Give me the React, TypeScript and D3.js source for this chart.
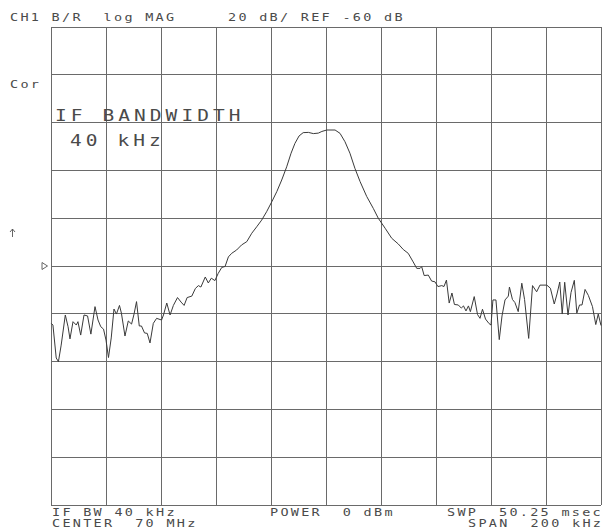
import React from "react";
import * as d3 from "d3";

// Frequency offset from center (kHz), span 200 kHz around 70 MHz
const freqKHz = [
  -99.9, -99.3, -98.1, -97.3, -96.3, -94.8, -93.8, -93.1, -92.0, -90.8, -90.2, -89.2, -88.0, -86.7, -85.5, -84.0,
  -82.9, -81.9, -80.9, -80.0, -79.1, -78.1, -77.1, -76.2, -75.1, -74.4, -73.1, -71.9, -70.7, -69.8, -68.9, -67.9,
  -67.1, -66.0, -65.0, -64.0, -62.8, -61.6, -59.8, -59.1, -57.9, -56.7, -55.5, -54.0, -52.7, -51.6, -50.5, -48.8,
  -47.5, -46.4, -45.5, -43.9, -42.8, -41.7, -40.4, -39.2, -37.9, -36.7, -35.5, -34.3, -32.5, -30.7, -28.8, -27.0,
  -25.2, -23.4, -21.6, -19.7, -17.9, -16.1, -14.3, -12.7, -11.3, -9.8, -8.3, -6.4, -4.6, -2.8, -1.5, 0.3,
  3.3, 5.1, 6.9, 8.7, 10.5, 12.4, 14.8, 17.2, 19.0, 21.5, 23.9, 26.3, 28.1, 29.9, 31.7, 33.0,
  34.2, 34.8, 35.7, 37.2, 38.4, 39.6, 40.7, 42.1, 42.9, 43.8, 44.8, 45.8, 46.7, 48.1, 49.2, 50.0,
  50.9, 51.8, 52.5, 53.9, 55.1, 56.0, 56.9, 58.0, 59.3, 60.0, 60.7, 61.8, 63.0, 64.0, 65.1, 66.3,
  66.7, 67.8, 68.7, 69.9, 71.2, 72.2, 73.7, 75.1, 76.6, 77.8, 80.3, 81.6, 83.0, 84.0, 85.0, 85.9,
  86.8, 88.0, 89.1, 90.3, 91.2, 92.2, 93.1, 94.2, 95.4, 96.9, 98.1, 99.0, 100.0,
];

// Magnitude, dB (B/R)
const magDB = [
  -84.0, -84.7, -98.5, -100.0, -93.1, -80.5, -85.4, -90.5, -83.3, -84.7, -83.3, -88.9, -80.5, -80.9, -88.5, -77.0,
  -82.6, -85.4, -86.4, -91.0, -98.3, -90.1, -78.0, -80.1, -76.5, -79.7, -89.3, -83.0, -84.3, -80.1, -74.9, -85.1,
  -85.1, -88.0, -88.2, -92.2, -84.0, -81.9, -82.6, -80.5, -75.5, -80.5, -76.5, -73.2, -75.1, -76.5, -73.2, -72.6,
  -69.4, -68.2, -68.8, -64.6, -67.1, -65.1, -66.1, -63.1, -60.6, -60.2, -56.2, -54.7, -53.3, -51.2, -49.8, -46.3,
  -43.6, -40.8, -37.3, -33.1, -28.9, -24.0, -18.5, -12.8, -8.7, -5.6, -4.2, -4.1, -4.6, -4.4, -3.7, -3.1,
  -3.1, -4.5, -8.0, -12.8, -19.1, -24.7, -30.9, -35.9, -40.0, -44.2, -48.4, -50.8, -53.1, -54.7, -58.3, -61.0,
  -61.0, -60.3, -64.0, -63.8, -66.3, -66.6, -68.6, -68.2, -68.6, -65.9, -75.5, -71.3, -76.1, -76.3, -77.6, -76.7,
  -78.8, -76.7, -79.1, -72.8, -80.3, -81.9, -78.1, -82.2, -84.1, -84.7, -74.2, -74.2, -90.8, -80.9, -74.2, -72.6,
  -68.8, -74.0, -75.3, -79.1, -67.2, -74.0, -90.3, -68.2, -70.8, -68.0, -68.0, -69.3, -75.9, -71.7, -66.7, -80.1,
  -66.8, -80.5, -71.1, -66.0, -79.7, -76.3, -76.3, -69.8, -72.3, -77.0, -84.5, -80.1, -84.9,
];

const xDivs = d3.range(0, 11);
const yDivs = d3.range(0, 11);

const headerLeft = "CH1 B/R  log MAG";
const headerRight = "20 dB/ REF -60 dB";
const corLabel = "Cor";
const bigLine1 = "IF BANDWIDTH";
const bigLine2 = "40 kHz";
const footer1 = [
  { t: "IF BW 40 kHz", x: 52 },
  { t: "POWER  0 dBm", x: 270 },
  { t: "SWP  50.25 msec", x: 447 },
];
const footer2 = [
  { t: "CENTER  70 MHz", x: 52 },
  { t: "SPAN  200 kHz", x: 468 },
];

const W = 602;
const H = 529;
const L = 51, R = 601, T = 27, B = 505;

const FONT = "'DejaVu Sans Mono', monospace";
const TEXT_COLOR = "#4a4a4a";

function Mono({ x, y, text, size = 10, pitch = 10.4, sx = 1.35 }: { x: number; y: number; text: string; size?: number; pitch?: number; sx?: number }) {
  return (
    <g fontFamily={FONT} fontSize={size} fill={TEXT_COLOR}>
      {text.split("").map((c, i) =>
        c === " " ? null : (
          <text key={i} transform={`translate(${x + i * pitch},${y}) scale(${sx},1)`}>
            {c}
          </text>
        )
      )}
    </g>
  );
}

export default function App() {
  const x = d3.scaleLinear().domain([-100, 100]).range([L, R]);
  const y = d3.scaleLinear().domain([-160, 40]).range([B, T]);

  const gx = d3.scaleLinear().domain([0, 10]).range([L, R]);
  const gy = d3.scaleLinear().domain([0, 10]).range([T, B]);

  const pts: [number, number][] = freqKHz.map((f, i) => [f, magDB[i]]);
  const line = d3
    .line<[number, number]>()
    .x((d) => x(d[0]))
    .y((d) => y(d[1]));

  const refY = y(-60);

  return (
    <svg
      width={W}
      height={H}
      style={{ position: "absolute", left: 0, top: 0, background: "#fff" }}
    >
      <rect x={0} y={0} width={W} height={H} fill="#fff" />
      {/* grid */}
      <g stroke="#6a6a6a" strokeWidth={1} shapeRendering="crispEdges">
        {xDivs.map((i) => (
          <line key={"v" + i} x1={gx(i)} x2={gx(i)} y1={T} y2={B} />
        ))}
        {yDivs.map((j) => (
          <line key={"h" + j} x1={L} x2={R} y1={gy(j)} y2={gy(j)} />
        ))}
      </g>
      {/* trace */}
      <path d={line(pts) || ""} fill="none" stroke="#3a3a3a" strokeWidth={1} strokeLinejoin="round" />

      {/* header */}
      <Mono x={10} y={20.5} text={headerLeft} />
      <Mono x={228} y={20.5} text={headerRight} />
      <Mono x={10} y={88} text={corLabel} />

      {/* big annotation */}
      <Mono x={55} y={121} text={bigLine1} size={15} pitch={15.8} sx={1.3} />
      <Mono x={70} y={146} text={bigLine2} size={15} pitch={15.8} sx={1.3} />

      {/* left markers */}
      <path d="M12.5,229 L12.5,237 M10,232 L12.5,229 L15,232" fill="none" stroke="#555" strokeWidth={0.9} />
      <path
        d={`M42,${refY - 3.5} L47.5,${refY} L42,${refY + 3.5} Z`}
        fill="none"
        stroke="#555"
        strokeWidth={0.9}
      />

      {/* footer */}
      {footer1.map((f) => (
        <Mono key={f.t} x={f.x} y={515.5} text={f.t} />
      ))}
      {footer2.map((f) => (
        <Mono key={f.t} x={f.x} y={527} text={f.t} />
      ))}
    </svg>
  );
}
